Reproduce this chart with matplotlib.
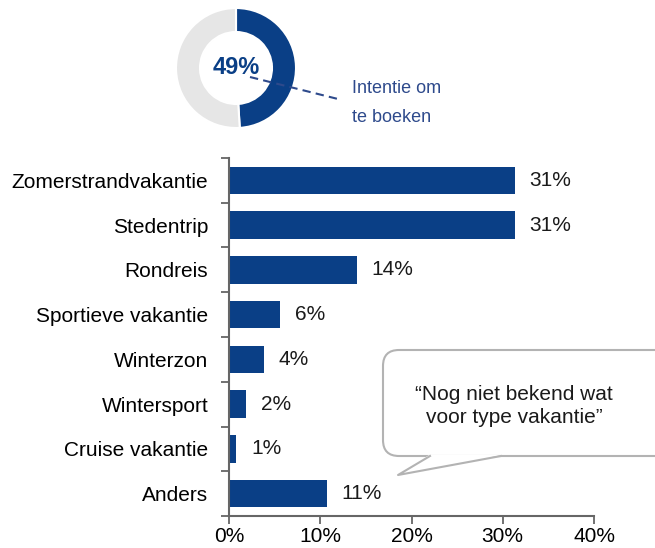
import matplotlib
matplotlib.use("Agg")
import matplotlib.pyplot as plt
import numpy as np
from matplotlib.patches import FancyBboxPatch, Polygon
from matplotlib.lines import Line2D

plt.rcParams['font.family'] = ['Liberation Sans', 'DejaVu Sans']

categories = ["Zomerstrandvakantie", "Stedentrip", "Rondreis", "Sportieve vakantie",
              "Winterzon", "Wintersport", "Cruise vakantie", "Anders"]
values = [31.3, 31.3, 14.0, 5.6, 3.8, 1.9, 0.8, 10.7]
value_labels = ["31%", "31%", "14%", "6%", "4%", "2%", "1%", "11%"]
xticks = [0, 10, 20, 30, 40]
xtick_labels = ["0%", "10%", "20%", "30%", "40%"]
donut_values = [49, 51]
donut_label = "49%"
donut_caption = "Intentie om\nte boeken"
callout_text = "\u201cNog niet bekend wat\nvoor type vakantie\u201d"

BLUE = "#0A3F86"
GRAY_DONUT = "#E6E6E6"
AXC = "#666666"

W, H = 655, 548
fig = plt.figure(figsize=(W / 100, H / 100), dpi=100)

# Main bar axes
ax = fig.add_axes([229 / W, 1 - 516 / H, (594 - 229) / W, (516 - 158) / H])
y = np.arange(len(categories))
ax.barh(y, values, height=0.62, color=BLUE)
ax.set_ylim(len(categories) - 0.5, -0.5)
ax.set_xlim(0, 40)
ax.set_yticks(y)
ax.set_yticklabels(categories, fontsize=15)
ax.set_yticks(np.arange(-0.5, len(categories), 1), minor=True)
ax.tick_params(axis='y', which='major', length=0, pad=15)
ax.tick_params(axis='y', which='minor', length=6, width=1.3, color=AXC, direction='out')
ax.set_xticks(xticks)
ax.set_xticklabels(xtick_labels, fontsize=15)
ax.tick_params(axis='x', length=6, width=1.3, color=AXC, pad=2)
for s in ['top', 'right']:
    ax.spines[s].set_visible(False)
for s in ['left', 'bottom']:
    ax.spines[s].set_color(AXC)
    ax.spines[s].set_linewidth(1.5)
for yi, v, lab in zip(y, values, value_labels):
    ax.text(v + 1.6, yi, lab, va='center', ha='left', fontsize=15, color='#1a1a1a')

# Donut
R = 60
dax = fig.add_axes([(236 - 66) / W, 1 - (68 + 66) / H, 132 / W, 132 / H])
dax.pie(donut_values, colors=[BLUE, GRAY_DONUT], startangle=90, counterclock=False,
        radius=R, wedgeprops=dict(width=24, edgecolor='white', linewidth=1.5))
dax.set_xlim(-66, 66)
dax.set_ylim(-66, 66)
dax.set_aspect('equal')
dax.axis('off')
dax.text(0, 1, donut_label, ha='center', va='center', fontsize=17, fontweight='bold', color=BLUE)

# Overlay axes in pixel coordinates for annotations
ov = fig.add_axes([0, 0, 1, 1], zorder=5)
ov.set_xlim(0, W)
ov.set_ylim(H, 0)
ov.axis('off')
ov.patch.set_alpha(0)
ov.add_line(Line2D([250, 338], [77, 99], color='#2E4A8C', lw=1.5, linestyle=(0, (4, 2.5))))
ov.text(352, 103, donut_caption, ha='left', va='center', fontsize=13, color='#2E4A8C',
        linespacing=1.9)

# Callout bubble
ec = '#B3B3B3'
box = FancyBboxPatch((383, 350), 300, 106, boxstyle="round,pad=0,rounding_size=16",
                     facecolor='white', edgecolor=ec, linewidth=1.5, zorder=6)
ov.add_patch(box)
ov.add_patch(Polygon([[429, 455], [398, 475], [502, 455]], closed=True,
                     facecolor='white', edgecolor='none', zorder=7))
ov.add_line(Line2D([430, 398, 501], [456, 475, 456], color=ec, lw=1.5, zorder=8))
ov.text(514, 406, callout_text, ha='center', va='center', fontsize=15, color='#1a1a1a',
        linespacing=1.25, zorder=9)

fig.savefig("out.png", dpi=100)
